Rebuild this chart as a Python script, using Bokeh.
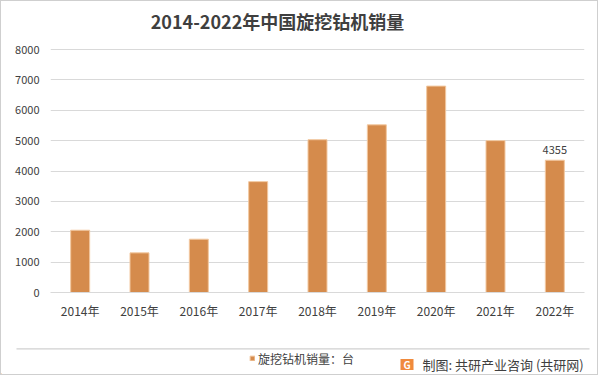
from bokeh.plotting import figure
from bokeh.layouts import column
from bokeh.models import (FactorRange, Range1d, ColumnDataSource, LabelSet,
                          Legend, LegendItem, FixedTicker)
from bokeh.embed import file_html
from bokeh.resources import INLINE
from bokeh.core.properties import value

# ---- data ----
years = ["2014年", "2015年", "2016年", "2017年", "2018年", "2019年", "2020年", "2021年", "2022年"]
sales = [2050, 1305, 1755, 3650, 5030, 5520, 6795, 5000, 4355]
y_ticks = [0, 1000, 2000, 3000, 4000, 5000, 6000, 7000, 8000]
label_years = ["2022年"]
label_values = [4355]
title_text = "2014-2022年中国旋挖钻机销量"
series_name = "旋挖钻机销量：台"
source_note = "制图: 共研产业咨询 (共研网)"

FONT = "Noto Sans CJK SC"
BAR = "#D58B4C"
BAR_LINE = "#F2C8A0"
GRID = "#D9D9D9"
TXT = "#404040"
W = 596


def blank(h):
    f = figure(width=W, height=h, x_range=Range1d(0, W), y_range=Range1d(0, h),
               output_backend="svg", toolbar_location=None, tools="",
               x_axis_type=None, y_axis_type=None, min_border=0, title=None)
    f.frame_align = False
    f.grid.visible = False
    f.outline_line_color = None
    f.background_fill_color = "white"
    f.border_fill_color = "white"
    return f


# ---- header (title) ----
head = blank(40)
head.text(x=[276], y=[21], text=[title_text], text_align="center",
          text_baseline="middle", text_font=value(FONT),
          text_font_size=value("18px"), text_font_style="bold", text_color="#3F3F3F")

# ---- main chart ----
p = figure(width=W, height=292,
           x_range=FactorRange(*years), y_range=Range1d(0, 8033),
           output_backend="svg", toolbar_location=None, tools="",
           min_border_left=49, min_border_right=13,
           min_border_top=7, min_border_bottom=41, title=None)
p.frame_align = False
p.outline_line_color = None
p.background_fill_color = "white"
p.border_fill_color = "white"

src = ColumnDataSource(dict(year=years, sales=sales))
bars = p.vbar(x="year", top="sales", width=0.32, source=src,
              fill_color=BAR, line_color=BAR_LINE, line_width=1)

lsrc = ColumnDataSource(dict(year=label_years, val=label_values,
                             txt=[str(v) for v in label_values]))
p.add_layout(LabelSet(x="year", y="val", text="txt", source=lsrc, y_offset=6,
                      text_align="center", text_baseline="bottom",
                      text_font=value(FONT), text_font_size=value("11px"),
                      text_color=TXT))

p.yaxis.ticker = FixedTicker(ticks=y_ticks)
p.yaxis.axis_line_color = None
p.yaxis.major_tick_line_color = None
p.yaxis.minor_tick_line_color = None
p.yaxis.major_tick_out = 0
p.yaxis.major_label_standoff = 11
p.yaxis.major_label_text_font = FONT
p.yaxis.major_label_text_font_size = "11px"
p.yaxis.major_label_text_color = TXT

p.xaxis.axis_line_color = GRID
p.xaxis.major_tick_line_color = None
p.xaxis.minor_tick_line_color = None
p.xaxis.major_tick_out = 0
p.xaxis.major_label_standoff = 9
p.xaxis.major_label_text_font = FONT
p.xaxis.major_label_text_font_size = "12px"
p.xaxis.major_label_text_color = TXT

p.xgrid.grid_line_color = None
p.ygrid.ticker = FixedTicker(ticks=y_ticks)
p.ygrid.grid_line_color = GRID

# ---- footer (legend + source) ----
foot = blank(41)
foot.quad(left=[15], right=[588], bottom=[25], top=[26.2],
          fill_color="#D0D0D0", line_color=None)
# legend proxy (same style as bars, placed outside the visible range)
dummy = foot.vbar(x=[-100], top=[1], bottom=[0], width=1,
                  fill_color=BAR, line_color=BAR_LINE)
legend = Legend(items=[LegendItem(label=series_name, renderers=[dummy])],
                location=(248, 6), orientation="horizontal",
                glyph_width=6, glyph_height=6, label_standoff=3,
                label_height=20, padding=0, margin=0, spacing=0,
                border_line_color=None, background_fill_alpha=0,
                label_text_font=FONT, label_text_font_size="12px",
                label_text_color=TXT)
foot.add_layout(legend, "center")
foot.rect(x=[405.5], y=[10], width=13, height=11, fill_color="#F08A3C",
          line_color=None)
foot.text(x=[405.5], y=[10], text=["G"], text_align="center", text_baseline="middle",
          text_font=value(FONT), text_font_size=value("10px"),
          text_font_style="bold", text_color="white")
foot.text(x=[421], y=[10], text=[source_note], text_align="left",
          text_baseline="middle", text_font=value(FONT),
          text_font_size=value("13px"), text_color=TXT)

layout = column(head, p, foot, spacing=0,
                styles={"border": "1px solid #CFCFCF"})

open("out.html", "w").write(file_html(layout, INLINE))
